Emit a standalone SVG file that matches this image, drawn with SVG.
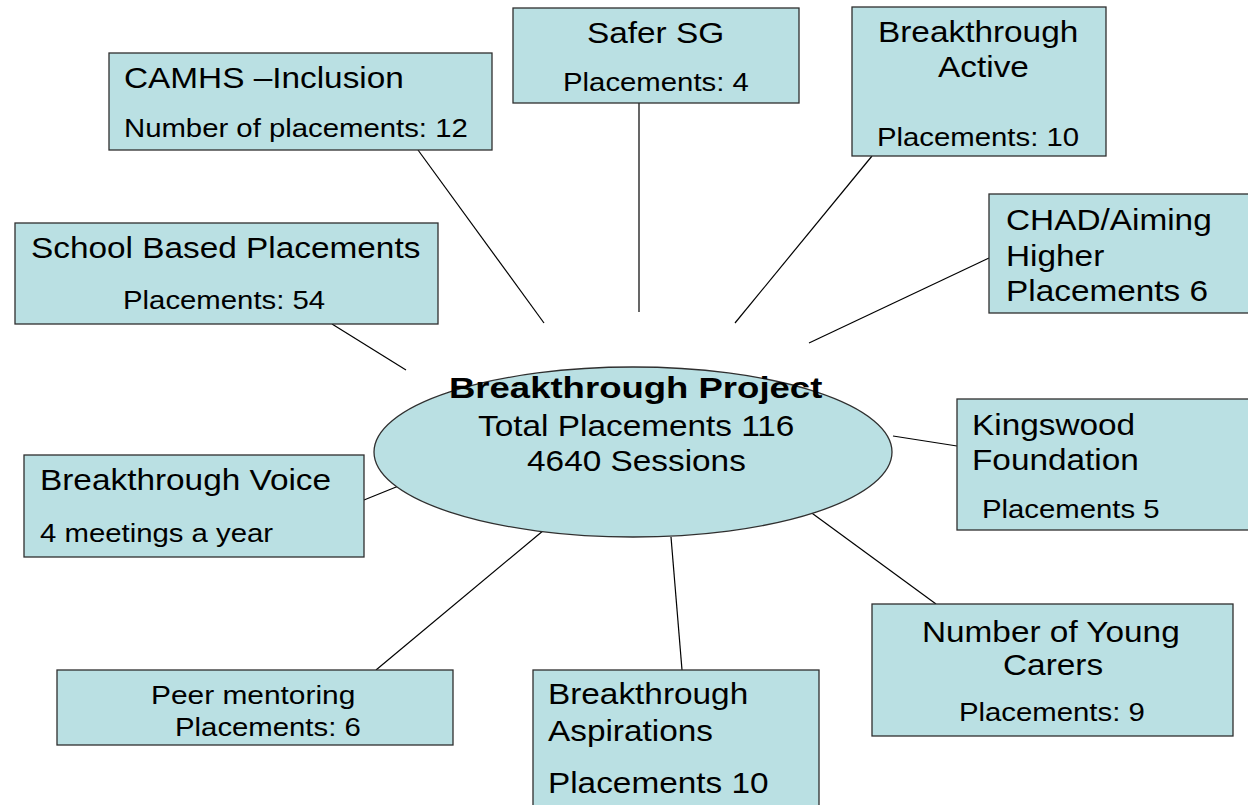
<svg xmlns="http://www.w3.org/2000/svg" width="1248" height="805" viewBox="0 0 1248 805">
<style>
.box{fill:#bae0e3;stroke:#2f2f2f;stroke-width:1.3}
text{font-family:"Liberation Sans",Arial,sans-serif;fill:#000}
.t{font-size:29px}
.s{font-size:25.5px}
.p{font-size:26px}
.b{font-weight:bold;font-size:29px}
.ln{stroke:#000;stroke-width:1.2;fill:none}
</style>
<rect width="1248" height="805" fill="#fff"/>
<g id="connectors">
<line class="ln" x1="418" y1="150" x2="544" y2="323"/>
<line class="ln" x1="639" y1="103" x2="639" y2="312"/>
<line class="ln" x1="872" y1="156" x2="735" y2="323"/>
<line class="ln" x1="989" y1="258" x2="809" y2="343"/>
<line class="ln" x1="332" y1="324" x2="406" y2="370"/>
<line class="ln" x1="957" y1="446" x2="893" y2="436"/>
<line class="ln" x1="364" y1="500" x2="406" y2="483"/>
<line class="ln" x1="376" y1="670" x2="544" y2="530"/>
<line class="ln" x1="682" y1="670" x2="671" y2="537"/>
<line class="ln" x1="936" y1="604" x2="809" y2="511"/>
</g>
<g id="center">
<ellipse class="box" cx="633" cy="452" rx="259" ry="85"/>
<text class="b" transform="scale(1.26,1)" x="356.3" y="398">Breakthrough Project</text>
<text class="t" transform="scale(1.15,1)" x="415.7" y="436">Total Placements 116</text>
<text class="t" transform="scale(1.15,1)" x="458.3" y="471">4640 Sessions</text>
</g>
<g id="camhs">
<rect class="box" x="109" y="53" width="383" height="97"/>
<text class="t" transform="scale(1.15,1)" x="107.8" y="88">CAMHS –Inclusion</text>
<text class="s" transform="scale(1.15,1)" x="107.8" y="137">Number of placements: 12</text>
</g>
<g id="safer">
<rect class="box" x="513" y="8" width="286" height="95"/>
<text class="t" transform="scale(1.15,1)" x="510.4" y="43">Safer SG</text>
<text class="s" transform="scale(1.15,1)" x="489.6" y="91">Placements: 4</text>
</g>
<g id="active">
<rect class="box" x="852" y="7" width="254" height="149"/>
<text class="t" transform="scale(1.15,1)" x="763.5" y="42">Breakthrough</text>
<text class="t" transform="scale(1.15,1)" x="815.7" y="77">Active</text>
<text class="s" transform="scale(1.15,1)" x="762.6" y="146">Placements: 10</text>
</g>
<g id="chad">
<rect class="box" x="989" y="194" width="264" height="119"/>
<text class="t" transform="scale(1.15,1)" x="874.8" y="230">CHAD/Aiming</text>
<text class="t" transform="scale(1.15,1)" x="874.8" y="266">Higher</text>
<text class="t" transform="scale(1.15,1)" x="874.8" y="301">Placements 6</text>
</g>
<g id="school">
<rect class="box" x="15" y="223" width="423" height="101"/>
<text class="t" transform="scale(1.15,1)" x="27" y="258">School Based Placements</text>
<text class="s" transform="scale(1.15,1)" x="107" y="309">Placements: 54</text>
</g>
<g id="kingswood">
<rect class="box" x="957" y="399" width="296" height="131"/>
<text class="t" transform="scale(1.15,1)" x="845.2" y="435">Kingswood</text>
<text class="t" transform="scale(1.15,1)" x="845.2" y="470">Foundation</text>
<text class="s" transform="scale(1.15,1)" x="853.9" y="518">Placements 5</text>
</g>
<g id="voice">
<rect class="box" x="24" y="455" width="340" height="102"/>
<text class="t" transform="scale(1.15,1)" x="34.8" y="490">Breakthrough Voice</text>
<text class="s" transform="scale(1.15,1)" x="34.8" y="542">4 meetings a year</text>
</g>
<g id="peer">
<rect class="box" x="57" y="670" width="396" height="75"/>
<text class="p" transform="scale(1.15,1)" x="131.3" y="704">Peer mentoring</text>
<text class="s" transform="scale(1.15,1)" x="152.2" y="736">Placements: 6</text>
</g>
<g id="aspirations">
<rect class="box" x="533" y="670" width="286" height="140"/>
<text class="t" transform="scale(1.15,1)" x="476.5" y="704">Breakthrough</text>
<text class="t" transform="scale(1.15,1)" x="476.5" y="741">Aspirations</text>
<text class="t" transform="scale(1.15,1)" x="476.5" y="793">Placements 10</text>
</g>
<g id="carers">
<rect class="box" x="872" y="604" width="361" height="132"/>
<text class="t" transform="scale(1.15,1)" x="801.7" y="642">Number of Young</text>
<text class="t" transform="scale(1.15,1)" x="872.2" y="675">Carers</text>
<text class="s" transform="scale(1.15,1)" x="833.9" y="721">Placements: 9</text>
</g>
</svg>
